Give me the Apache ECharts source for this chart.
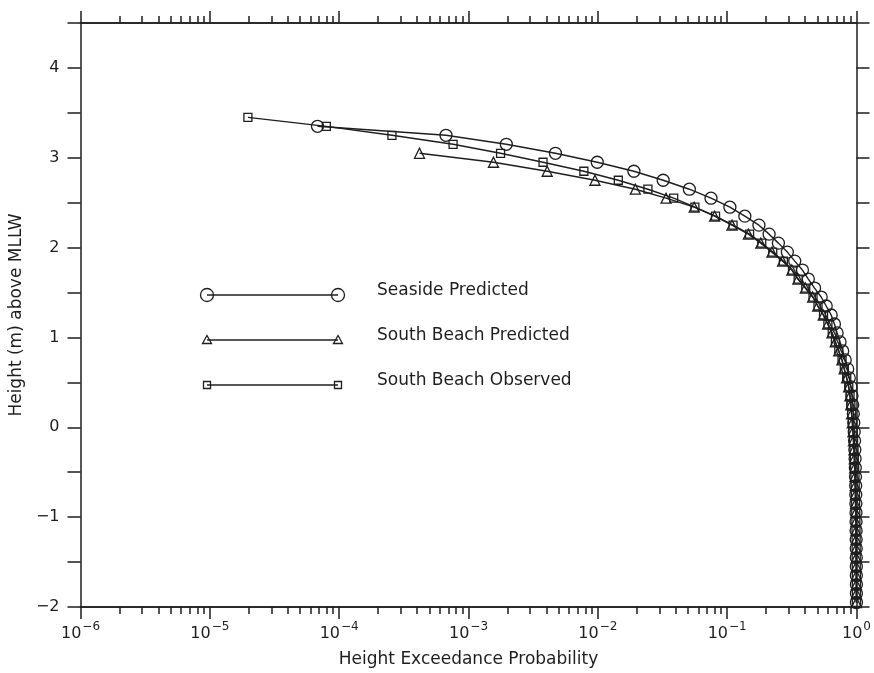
<!DOCTYPE html>
<html>
<head>
<meta charset="utf-8">
<script src="https://cdn.jsdelivr.net/npm/echarts@6/dist/echarts.min.js"></script>
<style>html,body{margin:0;padding:0;background:#fff}#c{width:874px;height:673px}</style>
</head>
<body>
<div id="c"></div>
<script>
// ---- data ----
const seriesNames = ['Seaside Predicted', 'South Beach Predicted', 'South Beach Observed'];

const seasideHeight = [3.35,3.25,3.15,3.05,2.95,2.85,2.75,2.65,2.55,2.45,2.35,2.25,2.15,2.05,1.95,1.85,1.75,1.65,1.55,1.45,1.35,1.25,1.15,1.05,0.95,0.85,0.75,0.65,0.55,0.45,0.35,0.25,0.15,0.05,-0.05,-0.15,-0.25,-0.35,-0.45,-0.55,-0.65,-0.75,-0.85,-0.95,-1.05,-1.15,-1.25,-1.35,-1.45,-1.55,-1.65,-1.75,-1.85,-1.95];
const seasideProb = [6.8e-5,6.7e-4,1.96e-3,4.7e-3,9.9e-3,0.019,0.032,0.051,0.075,0.105,0.137,0.176,0.211,0.249,0.292,0.333,0.382,0.424,0.474,0.533,0.583,0.637,0.675,0.708,0.746,0.782,0.818,0.855,0.879,0.906,0.923,0.935,0.945,0.953,0.960,0.966,0.971,0.975,0.979,0.982,0.985,0.987,0.989,0.991,0.992,0.993,0.994,0.995,0.996,0.997,0.997,0.998,0.998,0.999];

const sbPredHeight = [3.05,2.95,2.85,2.75,2.65,2.55,2.45,2.35,2.25,2.15,2.05,1.95,1.85,1.75,1.65,1.55,1.45,1.35,1.25,1.15,1.05,0.95,0.85,0.75,0.65,0.55,0.45,0.35,0.25,0.15,0.05,-0.05,-0.15,-0.25,-0.35,-0.45,-0.55,-0.65,-0.75,-0.85,-0.95,-1.05,-1.15,-1.25,-1.35,-1.45,-1.55,-1.65,-1.75,-1.85,-1.95];
const sbPredProb = [4.18e-4,1.56e-3,4.06e-3,9.5e-3,0.0195,0.0337,0.0556,0.080,0.109,0.146,0.182,0.222,0.268,0.316,0.352,0.402,0.458,0.501,0.553,0.598,0.646,0.685,0.728,0.771,0.803,0.838,0.869,0.889,0.903,0.916,0.928,0.938,0.947,0.955,0.961,0.967,0.972,0.976,0.980,0.983,0.986,0.988,0.990,0.992,0.993,0.995,0.996,0.997,0.997,0.998,0.999];

const sbObsHeight = [3.45,3.35,3.25,3.15,3.05,2.95,2.85,2.75,2.65,2.55,2.45,2.35,2.25,2.15,2.05,1.95,1.85,1.75,1.65,1.55,1.45,1.35,1.25,1.15,1.05,0.95,0.85,0.75,0.65,0.55,0.45,0.35,0.25,0.15,0.05,-0.05,-0.15,-0.25,-0.35,-0.45,-0.55,-0.65,-0.75,-0.85,-0.95,-1.05,-1.15,-1.25,-1.35,-1.45,-1.55,-1.65,-1.75,-1.85,-1.95];
const sbObsProb = [1.97e-5,7.96e-5,2.56e-4,7.6e-4,1.77e-3,3.77e-3,7.8e-3,0.0144,0.0244,0.0386,0.0563,0.0813,0.111,0.149,0.185,0.225,0.272,0.320,0.354,0.405,0.461,0.504,0.556,0.601,0.649,0.687,0.730,0.773,0.805,0.840,0.871,0.891,0.905,0.918,0.930,0.940,0.949,0.957,0.963,0.968,0.973,0.977,0.981,0.984,0.987,0.989,0.991,0.993,0.994,0.995,0.996,0.997,0.998,0.998,0.999];

const xMajorTicks = [1e-6,1e-5,1e-4,1e-3,1e-2,1e-1,1];
const xMinorMultipliers = [2,3,4,5,6,7,8,9];
const yMin = -2, yMax = 4.5, yTickStep = 0.5;

// ---- build ----
const xMinorTicks = [];
xMajorTicks.slice(0, -1).forEach(d => xMinorMultipliers.forEach(m => xMinorTicks.push(+(d * m).toPrecision(3))));

const INK = '#1e1e1e';
const FONT = 'DejaVu Sans';
const pairs = (xs, ys) => xs.map((x, i) => [x, ys[i]]);

function supLabel(v) {
  const e = Math.round(Math.log10(v));
  const es = e < 0 ? '\u2212' + (-e) : String(e);
  return '{b|10}{s|' + es + '}';
}

const axisLineStyle = { color: INK, width: 1.5 };
function xAxisDef(position, ticks, len, withLabels) {
  return {
    type: 'log', logBase: 10, min: 1e-6, max: 1, position: position,
    axisLine: { show: true, onZero: false, lineStyle: axisLineStyle },
    axisTick: { show: true, inside: false, length: len, customValues: ticks, lineStyle: { color: INK, width: 1.5 } },
    axisLabel: withLabels ? {
      show: true, customValues: xMajorTicks, margin: 14, formatter: supLabel,
      rich: {
        b: { fontFamily: FONT, fontSize: 16, color: INK, verticalAlign: 'bottom' },
        s: { fontFamily: FONT, fontSize: 12, color: INK, verticalAlign: 'bottom', padding: [0, 0, 9, 1] }
      }
    } : { show: false },
    splitLine: { show: false },
    minorTick: { show: false },
    name: withLabels ? 'Height Exceedance Probability' : '',
    nameLocation: 'middle', nameGap: 44,
    nameTextStyle: { fontFamily: FONT, fontSize: 17, color: INK }
  };
}
function yAxisDef(position, withLabels) {
  return {
    type: 'value', min: yMin, max: yMax, interval: yTickStep, position: position,
    axisLine: { show: true, onZero: false, lineStyle: axisLineStyle },
    axisTick: { show: true, inside: false, length: 13, lineStyle: { color: INK, width: 1.5 } },
    axisLabel: withLabels ? {
      show: true, margin: 21, fontFamily: FONT, fontSize: 16, color: INK,
      formatter: v => (Number.isInteger(v) ? (v < 0 ? '\u2212' + (-v) : String(v)) : '')
    } : { show: false },
    splitLine: { show: false },
    name: withLabels ? 'Height (m) above MLLW' : '',
    nameLocation: 'middle', nameGap: 52, nameRotate: 90,
    nameTextStyle: { fontFamily: FONT, fontSize: 17, color: INK }
  };
}

function lineSeries(name, data, symbol, size) {
  return {
    name: name, type: 'line', data: data, xAxisIndex: 0, yAxisIndex: 0,
    symbol: symbol, symbolSize: size, showSymbol: true, showAllSymbol: true,
    lineStyle: { color: INK, width: 1.4 },
    itemStyle: { color: 'rgba(255,255,255,0)', borderColor: INK, borderWidth: 1.3 },
    emphasis: { disabled: true }, animation: false, z: 3
  };
}

// legend (drawn as graphics)
const legendRows = [
  { y: 295, label: seriesNames[0], shape: 'circle' },
  { y: 340, label: seriesNames[1], shape: 'triangle' },
  { y: 385, label: seriesNames[2], shape: 'square' }
];
const lx1 = 207, lx2 = 338, ltx = 377;
const graphics = [];
function marker(shape, cx, cy) {
  const st = { fill: 'none', stroke: INK, lineWidth: 1.3 };
  if (shape === 'circle') return { type: 'circle', shape: { cx: cx, cy: cy, r: 6.5 }, style: st };
  if (shape === 'triangle') return { type: 'polygon', shape: { points: [[cx, cy - 4.5], [cx + 4.5, cy + 3.5], [cx - 4.5, cy + 3.5]] }, style: st };
  return { type: 'rect', shape: { x: cx - 3.5, y: cy - 3.5, width: 7, height: 7 }, style: st };
}
legendRows.forEach(r => {
  graphics.push({ type: 'line', shape: { x1: lx1, y1: r.y, x2: lx2, y2: r.y }, style: { stroke: INK, lineWidth: 1.4 } });
  graphics.push(marker(r.shape, lx1, r.y));
  graphics.push(marker(r.shape, lx2, r.y));
  graphics.push({ type: 'text', x: ltx, y: r.y - 4, style: { text: r.label, fontFamily: FONT, fontSize: 17, fill: INK, verticalAlign: 'middle', textAlign: 'left' } });
});

const chart = echarts.init(document.getElementById('c'), null, { renderer: 'canvas' });
chart.setOption({
  animation: false,
  backgroundColor: '#fff',
  grid: { left: 77, right: 14, top: 23, bottom: 62 },
  xAxis: [
    xAxisDef('bottom', xMajorTicks, 12, true),
    xAxisDef('bottom', xMinorTicks, 7, false),
    xAxisDef('top', xMajorTicks, 12, false),
    xAxisDef('top', xMinorTicks, 7, false)
  ],
  yAxis: [yAxisDef('left', true), yAxisDef('right', false)],
  series: [
    lineSeries(seriesNames[0], pairs(seasideProb, seasideHeight), 'circle', 12),
    lineSeries(seriesNames[1], pairs(sbPredProb, sbPredHeight), 'triangle', 10),
    lineSeries(seriesNames[2], pairs(sbObsProb, sbObsHeight), 'rect', 8)
  ],
  graphic: graphics
});
</script>
</body>
</html>
